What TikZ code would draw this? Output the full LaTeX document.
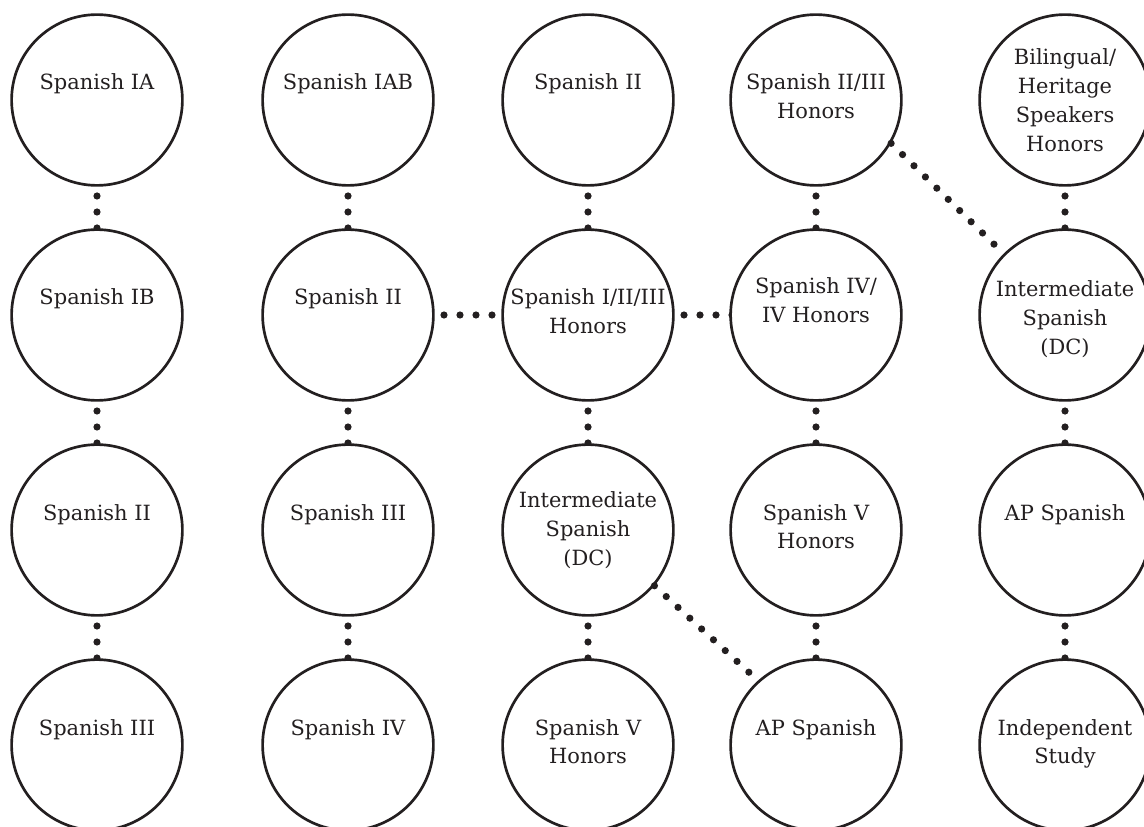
\documentclass[tikz,border=0pt]{standalone}
\usepackage{fontspec}
\setmainfont{DejaVu Serif}
\usepackage{tikz}
\usetikzlibrary{positioning, backgrounds}
\definecolor{ink}{HTML}{231F20}
\tikzstyle{course} = [circle, minimum size=4.27cm, inner sep=0pt, draw=ink, line width=1.9pt, fill=white]
\tikzstyle{coursename} = [align=center, anchor=base, yshift=0.25cm, text=ink, font=\fontsize{14.9}{20.6}\selectfont]
\tikzstyle{twolines} = [yshift=-0.724cm]
\tikzstyle{coursemid} = [align=center, anchor=center, text=ink, font=\fontsize{14.9}{20.6}\selectfont]
\tikzstyle{link} = [draw=ink, line width=0.18cm, line cap=round, dash pattern=on 0pt off 0.4cm]

\begin{document}
\begin{tikzpicture}[node distance=5.375cm]
		
		\useasboundingbox (0,0) rectangle (28.6,-20.675);
		\clip (0,0) rectangle (28.6,-20.675);
		
		% Circles
		\node (c1ia) [course] at (2.425,-2.5) {};
		\node (c2iab) [course, right of=c1ia, xshift=0.9cm] {};
		\node (c3ii) [course, right of=c2iab, xshift=0.625cm] {};
		\node (c4hon) [course, right of=c3ii, xshift=0.325cm] {};
		\node (c5heritage) [course, right of=c4hon, xshift=0.85cm] {};
		\node (c1ib) [course, below of=c1ia] {};
		\node (c1ii) [course, below of=c1ib] {};
		\node (c1iii) [course, below of=c1ii] {};
		\node (c2ii) [course, below of=c2iab] {};
		\node (c2iii) [course, below of=c2ii] {};
		\node (c2iv) [course, below of=c2iii] {};
		\node (c3hon) [course, below of=c3ii] {};
		\node (c3dc) [course, below of=c3hon] {};
		\node (c3vhon) [course, below of=c3dc] {};
		\node (c4ivhon) [course, below of=c4hon] {};
		\node (c4vhon) [course, below of=c4ivhon] {};
		\node (c4ap) [course, below of=c4vhon] {};
		\node (c5dc) [course, below of=c5heritage] {};
		\node (c5ap) [course, below of=c5dc] {};
		\node (c5indep) [course, below of=c5ap] {};
		
		% Names
		\node (t1ia) [coursename] at (c1ia) {Spanish IA};
		\node (t1ib) [coursename] at (c1ib) {Spanish IB};
		\node (t1ii) [coursename] at (c1ii) {Spanish II};
		\node (t1iii) [coursename] at (c1iii) {Spanish III};
		\node (t2iab) [coursename] at (c2iab) {Spanish IAB};
		\node (t2ii) [coursename] at (c2ii) {Spanish II};
		\node (t2iii) [coursename] at (c2iii) {Spanish III};
		\node (t2iv) [coursename] at (c2iv) {Spanish IV};
		\node (t3ii) [coursename] at (c3ii) {Spanish II};
		\node (t3hon) [coursename, twolines] at (c3hon) {Spanish I/II/III\\Honors};
		\node (t3dc) [coursemid] at (c3dc) {Intermediate\\Spanish\\(DC)};
		\node (t3vhon) [coursename, twolines] at (c3vhon) {Spanish V\\Honors};
		\node (t4hon) [coursename, twolines] at (c4hon) {Spanish II/III\\Honors};
		\node (t4ivhon) [coursename, twolines, yshift=0.275cm] at (c4ivhon) {Spanish IV/\\IV Honors}; % sits higher
		\node (t4vhon) [coursename, twolines] at (c4vhon) {Spanish V\\Honors};
		\node (t4ap) [coursename] at (c4ap) {AP Spanish};
		\node (t5heritage) [coursemid] at (c5heritage) {Bilingual/\\Heritage\\Speakers\\Honors};
		\node (t5dc) [coursemid, yshift=-0.1cm] at (c5dc) {Intermediate\\Spanish\\(DC)};
		\node (t5ap) [coursename] at (c5ap) {AP Spanish};
		\node (t5indep) [coursename, twolines] at (c5indep) {Independent\\Study};
		
		% Links, behind the circles
		\begin{scope}[on background layer]
		\draw [link] (c1ia.center) -- (c1ib.center);
		\draw [link] (c1ib.center) -- (c1ii.center);
		\draw [link] (c1ii.center) -- (c1iii.center);
		\draw [link] (c2iab.center) -- (c2ii.center);
		\draw [link] (c2ii.center) -- (c2iii.center);
		\draw [link] (c2iii.center) -- (c2iv.center);
		\draw [link] (c3ii.center) -- (c3hon.center);
		\draw [link] (c3hon.center) -- (c3dc.center);
		\draw [link] (c3dc.center) -- (c3vhon.center);
		\draw [link] (c4hon.center) -- (c4ivhon.center);
		\draw [link] (c4ivhon.center) -- (c4vhon.center);
		\draw [link] (c4vhon.center) -- (c4ap.center);
		\draw [link] (c5heritage.center) -- (c5dc.center);
		\draw [link] (c5dc.center) -- (c5ap.center);
		\draw [link] (c5ap.center) -- (c5indep.center);
		\draw [link] (c2ii.center) -- (c3hon.center);
		\draw [link] (c3hon.center) -- (c4ivhon.center);
		\end{scope}
		
		% Diagonal links
		\draw [link] (c4hon.-30) -- (c5dc.135);
		\draw [link] (c3dc.-40) -- (c4ap.132);
		
	\end{tikzpicture}
\end{document}
